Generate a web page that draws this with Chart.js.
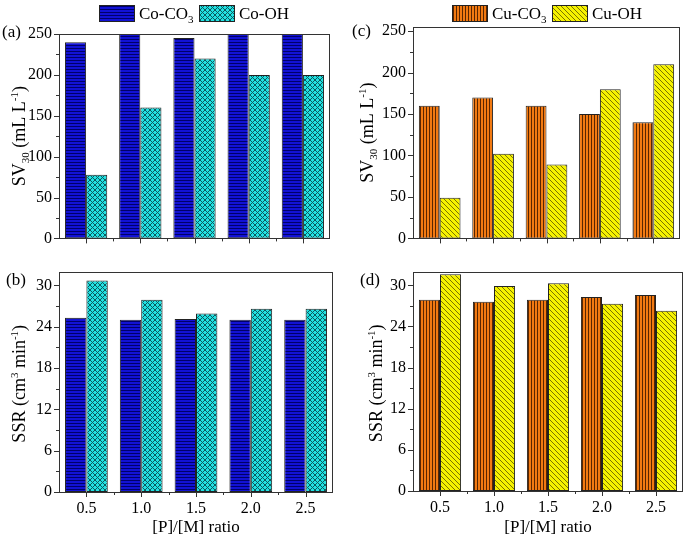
<!DOCTYPE html>
<html>
<head>
<meta charset="utf-8">
<script src="https://cdn.jsdelivr.net/npm/chart.js@4.4.1/dist/chart.umd.min.js"></script>
<style>
  body { margin: 0; background: #fff; width: 685px; height: 540px; position: relative; overflow: hidden; }
  canvas { position: absolute; }
</style>
</head>
<body>
<canvas id="chartA" width="345" height="255" style="left:0;top:0"></canvas>
<canvas id="chartB" width="345" height="285" style="left:0;top:255px"></canvas>
<canvas id="chartC" width="340" height="255" style="left:345px;top:0"></canvas>
<canvas id="chartD" width="340" height="285" style="left:345px;top:255px"></canvas>
<script>
// Data
const ratios = ['0.5', '1.0', '1.5', '2.0', '2.5'];
const svTicks = [0, 50, 100, 150, 200, 250];
const ssrTicks = [0, 6, 12, 18, 24, 30];

const coCO3SV = [240, 250, 245, 250, 250];
const coOHSV = [78, 160, 220, 200, 200];
const coCO3SSR = [25.3, 25.0, 25.1, 25.0, 25.0];
const coOHSSR = [30.7, 27.9, 25.9, 26.6, 26.6];

const cuCO3SV = [160, 170, 160, 150, 140];
const cuOHSV = [49, 102, 89, 180, 210];
const cuCO3SSR = [27.9, 27.6, 27.9, 28.3, 28.6];
const cuOHSSR = [31.6, 29.9, 30.3, 27.3, 26.3];

const FONT = '"Liberation Serif", "Times New Roman", serif';

// Hatch fills
function makePattern(kind, bg, fg) {
  const c = document.createElement('canvas');
  const ctx = c.getContext('2d');
  const n = kind === 'hlines' || kind === 'vlines' ? 3 : 5;
  c.width = n; c.height = n;
  ctx.fillStyle = bg;
  ctx.fillRect(0, 0, n, n);
  ctx.fillStyle = fg;
  for (let i = 0; i < n; i++) {
    if (kind === 'hlines') ctx.fillRect(i, 0, 1, 1);
    if (kind === 'vlines') ctx.fillRect(0, i, 1, 1);
    if (kind === 'diag') ctx.fillRect(i, i, 1, 1);
    if (kind === 'cross') { ctx.fillRect(i, i, 1, 1); ctx.fillRect(n - 1 - i, i, 1, 1); }
  }
  return ctx.createPattern(c, 'repeat');
}

const coCO3Fill = makePattern('hlines', '#1212d4', '#00006a');
const coOHFill = makePattern('cross', '#22e2e2', '#0c5a60');
const cuCO3Fill = makePattern('vlines', '#f27a12', '#5a2600');
const cuOHFill = makePattern('diag', '#f6f200', '#7a7400');

// text with sub/superscripts
function drawRich(ctx, parts, x, y, rotated) {
  ctx.save();
  ctx.translate(x, y);
  if (rotated) ctx.rotate(-Math.PI / 2);
  let total = 0;
  parts.forEach(p => { ctx.font = p.size + 'px ' + FONT; total += ctx.measureText(p.t).width; });
  let cx = rotated ? -total / 2 : 0;
  ctx.fillStyle = '#000';
  ctx.textBaseline = 'alphabetic';
  ctx.textAlign = 'left';
  parts.forEach(p => {
    ctx.font = p.size + 'px ' + FONT;
    ctx.fillText(p.t, cx, 6 + (p.dy || 0));
    cx += ctx.measureText(p.t).width;
  });
  ctx.restore();
}

const svTitle = [{t: 'SV', size: 18}, {t: '30', size: 11, dy: 4}, {t: ' (mL L', size: 18}, {t: '-1', size: 11, dy: -7}, {t: ')', size: 18}];
const ssrTitle = [{t: 'SSR (cm', size: 18}, {t: '3', size: 11, dy: -7}, {t: ' min', size: 18}, {t: '-1', size: 11, dy: -7}, {t: ')', size: 18}];

// frame, tick marks, titles, panel letters, legend
const decoPlugin = {
  id: 'deco',
  afterDraw(chart, args, opts) {
    const ctx = chart.ctx;
    const a = chart.chartArea;
    const x = chart.scales.x;
    const y = chart.scales.y;
    ctx.save();
    ctx.strokeStyle = '#333';
    ctx.lineWidth = 1;
    ctx.strokeRect(Math.round(a.left) + 0.5, Math.round(a.top) + 0.5, Math.round(a.right - a.left) - 1, Math.round(a.bottom - a.top));
    ctx.beginPath();
    const tv = opts.yTicks;
    tv.forEach((v, i) => {
      const py = Math.round(y.getPixelForValue(v)) + 0.5;
      ctx.moveTo(a.left - 5, py); ctx.lineTo(a.left, py);
      if (i < tv.length - 1) {
        const pm = Math.round(y.getPixelForValue((v + tv[i + 1]) / 2)) + 0.5;
        ctx.moveTo(a.left - 3, pm); ctx.lineTo(a.left, pm);
      }
    });
    const n = chart.data.labels.length;
    for (let i = 0; i < n; i++) {
      const px = Math.round(x.getPixelForValue(i)) + 0.5;
      ctx.moveTo(px, a.bottom); ctx.lineTo(px, a.bottom + 5);
    }
    for (let i = 1; i < n; i++) {
      const px = Math.round(x.getPixelForValue(i - 0.5)) + 0.5;
      ctx.moveTo(px, a.bottom); ctx.lineTo(px, a.bottom + 3);
    }
    ctx.stroke();

    drawRich(ctx, opts.yTitle, opts.titleX, (a.top + a.bottom) / 2 + (opts.titleDy || 0), true);

    ctx.font = '17px ' + FONT;
    ctx.fillStyle = '#000';
    ctx.textBaseline = 'middle';
    ctx.fillText(opts.panel, opts.panelX, opts.panelY);

    if (opts.legend) {
      chart.data.datasets.forEach((ds, i) => {
        const L = opts.legend[i];
        ctx.fillStyle = ds.backgroundColor;
        ctx.fillRect(L.x, 5, 36, 17);
        ctx.strokeStyle = '#222';
        ctx.strokeRect(L.x + 0.5, 5.5, 35, 16);
        drawRich(ctx, L.text, L.x + 40, 13, false);
      });
    }
    ctx.restore();
  }
};

function makeChart(id, cfg) {
  const ctx = document.getElementById(id).getContext('2d');
  return new Chart(ctx, {
    type: 'bar',
    data: {
      labels: ratios,
      datasets: [
        {label: cfg.names[0], data: cfg.series[0], backgroundColor: cfg.fills[0], borderColor: '#222', borderWidth: 1, borderSkipped: false},
        {label: cfg.names[1], data: cfg.series[1], backgroundColor: cfg.fills[1], borderColor: '#222', borderWidth: 1, borderSkipped: false}
      ]
    },
    options: {
      responsive: false,
      animation: false,
      layout: {padding: cfg.padding},
      datasets: {bar: {categoryPercentage: 0.78, barPercentage: 1}},
      plugins: {
        legend: {display: false},
        tooltip: {enabled: false},
        deco: cfg.deco
      },
      scales: {
        x: {
          grid: {display: false, drawTicks: false},
          border: {display: false},
          ticks: {display: cfg.showX, font: {family: FONT, size: 16}, color: '#000', padding: 7, maxRotation: 0},
          title: {display: cfg.showX, text: '[P]/[M] ratio', font: {family: FONT, size: 17}, color: '#000', padding: {top: 0, bottom: 2}},
          afterFit: s => { s.height = cfg.xHeight; }
        },
        y: {
          min: 0,
          max: cfg.yMax,
          grid: {display: false, drawTicks: false},
          border: {display: false},
          afterBuildTicks: s => { s.ticks = cfg.yTicks.map(v => ({value: v})); },
          ticks: {font: {family: FONT, size: 16}, color: '#000', padding: 7},
          afterFit: s => { s.width = cfg.yWidth; }
        }
      }
    },
    plugins: [decoPlugin]
  });
}

// (a) Co SV30
makeChart('chartA', {
  names: ['Co-CO3', 'Co-OH'],
  series: [coCO3SV, coOHSV],
  fills: [coCO3Fill, coOHFill],
  yMax: 250, yTicks: svTicks,
  padding: {left: 0, top: 34, right: 15, bottom: 7},
  xHeight: 0, yWidth: 59, showX: false,
  deco: {
    yTicks: svTicks, yTitle: svTitle, titleX: 19, panel: '(a)', panelX: 2, panelY: 33,
    legend: [
      {x: 99, text: [{t: 'Co-CO', size: 17}, {t: '3', size: 11, dy: 4}]},
      {x: 199, text: [{t: 'Co-OH', size: 17}]}
    ]
  }
});

// (b) Co SSR
makeChart('chartB', {
  names: ['Co-CO3', 'Co-OH'],
  series: [coCO3SSR, coOHSSR],
  fills: [coCO3Fill, coOHFill],
  yMax: 32, yTicks: ssrTicks,
  padding: {left: 0, top: 15, right: 12, bottom: 0},
  xHeight: 48, yWidth: 59, showX: true,
  deco: {yTicks: ssrTicks, yTitle: ssrTitle, titleX: 19, titleDy: 2, panel: '(b)', panelX: 6, panelY: 26}
});

// (c) Cu SV30
makeChart('chartC', {
  names: ['Cu-CO3', 'Cu-OH'],
  series: [cuCO3SV, cuOHSV],
  fills: [cuCO3Fill, cuOHFill],
  yMax: 255, yTicks: svTicks,
  padding: {left: 0, top: 27, right: 5, bottom: 8},
  xHeight: 0, yWidth: 68, showX: false,
  deco: {
    yTicks: svTicks, yTitle: svTitle, titleX: 22, panel: '(c)', panelX: 7, panelY: 32,
    legend: [
      {x: 107, text: [{t: 'Cu-CO', size: 17}, {t: '3', size: 11, dy: 4}]},
      {x: 207, text: [{t: 'Cu-OH', size: 17}]}
    ]
  }
});

// (d) Cu SSR
makeChart('chartD', {
  names: ['Cu-CO3', 'Cu-OH'],
  series: [cuCO3SSR, cuOHSSR],
  fills: [cuCO3Fill, cuOHFill],
  yMax: 32, yTicks: ssrTicks,
  padding: {left: 0, top: 14, right: 2, bottom: 0},
  xHeight: 49, yWidth: 68, showX: true,
  deco: {yTicks: ssrTicks, yTitle: ssrTitle, titleX: 31, titleDy: 2, panel: '(d)', panelX: 15, panelY: 26}
});
</script>
</body>
</html>
